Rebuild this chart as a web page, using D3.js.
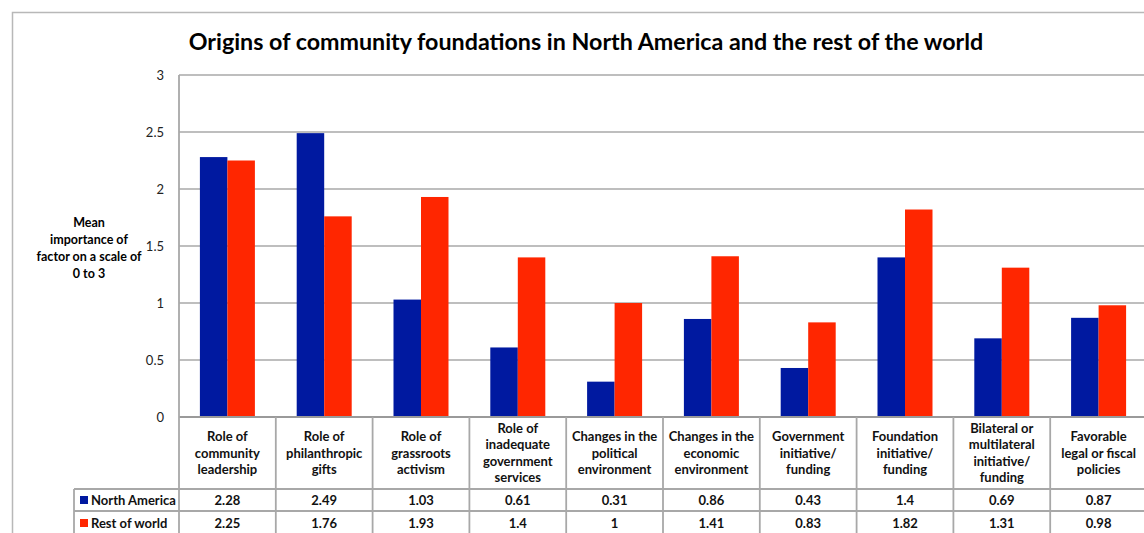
<!DOCTYPE html>
<html><head><meta charset="utf-8">
<script src="https://cdn.jsdelivr.net/npm/d3@7"></script>
<style>body{margin:0;background:#fff;} svg{display:block;}</style>
</head><body>
<svg id="c" width="1144" height="533"></svg>
<script>
const title = "Origins of community foundations in North America and the rest of the world";
const yLabelLines = ["Mean", "importance of", "factor on a scale of", "0 to 3"];
const categories = [
  "Role of|community|leadership",
  "Role of|philanthropic|gifts",
  "Role of|grassroots|activism",
  "Role of|inadequate|government|services",
  "Changes in the|political|environment",
  "Changes in the|economic|environment",
  "Government|initiative/|funding",
  "Foundation|initiative/|funding",
  "Bilateral or|multilateral|initiative/|funding",
  "Favorable|legal or fiscal|policies"
];
const seriesNames = ["North America", "Rest of world"];
const northAmerica = [2.28, 2.49, 1.03, 0.61, 0.31, 0.86, 0.43, 1.4, 0.69, 0.87];
const restOfWorld = [2.25, 1.76, 1.93, 1.4, 1, 1.41, 0.83, 1.82, 1.31, 0.98];
const yTicks = [0, 0.5, 1, 1.5, 2, 2.5, 3];
const colors = ["#0019A0", "#FF2600"];

const series = [northAmerica, restOfWorld];
const svg = d3.select("#c");
const font = "Lato, 'Open Sans', sans-serif";
const gridColor = "#a8a8a8";

// outer frame
svg.append("rect").attr("x", 12.5).attr("y", 12.5).attr("width", 1200).attr("height", 600)
  .attr("fill", "none").attr("stroke", "#b8b8b8").attr("stroke-width", 1.5);

const x0 = 179, colW = 96.8;
const x = d3.scaleBand().domain(categories).range([x0, x0 + colW * categories.length]).paddingInner(0).paddingOuter(0);
const xs = d3.scaleBand().domain([0, 1]).range([0, colW]).paddingInner(0).paddingOuter(0.76);
const y = d3.scaleLinear().domain([0, 3]).range([417, 75]);

// title
const t = svg.append("text").attr("x", 586).attr("y", 50).attr("text-anchor", "middle")
  .attr("font-family", font).attr("font-weight", "bold").attr("font-size", 20).attr("fill", "#000").text(title);
const w = t.node().getComputedTextLength();
t.attr("font-size", 20 * 795 / w);

// gridlines
const grid = svg.append("g");
grid.selectAll("line").data(yTicks.filter(d => d > 0)).join("line")
  .attr("x1", x0).attr("x2", 1144).attr("y1", d => y(d)).attr("y2", d => y(d))
  .attr("stroke", gridColor).attr("stroke-width", 1.5);

// y axis labels using d3 axis
const yAxis = d3.axisLeft(y).tickValues(yTicks).tickFormat(d => String(d)).tickSize(0).tickPadding(0);
const ga = svg.append("g").attr("transform", `translate(164,0)`).call(yAxis);
ga.select(".domain").remove();
ga.selectAll("text").attr("font-family", font).attr("font-size", 13).attr("fill", "#222");

// y label
const yl = svg.append("text").attr("text-anchor", "middle").attr("font-family", font)
  .attr("font-weight", "bold").attr("font-size", 12.5).attr("fill", "#000");
yLabelLines.forEach((l, i) => yl.append("tspan").attr("x", 89).attr("y", 227 + i * 17).text(l));

// bars
const bg = svg.append("g");
series.forEach((s, si) => {
  bg.selectAll(".b" + si).data(s).join("rect")
    .attr("x", (d, i) => x(categories[i]) + xs(si))
    .attr("width", xs.bandwidth())
    .attr("y", d => y(d)).attr("height", d => y(0) - y(d))
    .attr("fill", colors[si]);
});

// table
const rowTop = 417, headBottom = 489, r1 = 511;
const tb = svg.append("g").attr("stroke", gridColor).attr("stroke-width", 1.8);
tb.append("line").attr("x1", x0).attr("x2", 1144).attr("y1", rowTop).attr("y2", rowTop).attr("stroke", "#9a9a9a").attr("stroke-width", 2);
tb.append("line").attr("x1", 74).attr("x2", 1144).attr("y1", headBottom).attr("y2", headBottom);
tb.append("line").attr("x1", 74).attr("x2", 1144).attr("y1", r1).attr("y2", r1);
tb.append("line").attr("x1", 74).attr("x2", 74).attr("y1", headBottom).attr("y2", 533);
tb.append("line").attr("x1", x0).attr("x2", x0).attr("y1", 75).attr("y2", 533);
categories.forEach((c, i) => {
  tb.append("line").attr("x1", x(c) + colW).attr("x2", x(c) + colW).attr("y1", rowTop).attr("y2", 533);
});

// category labels
const lab = svg.append("g").attr("font-family", font).attr("font-weight", "bold").attr("font-size", 13).attr("fill", "#111").attr("text-anchor", "middle");
categories.forEach(c => {
  const lines = c.split("|");
  const cx = x(c) + colW / 2;
  const lh = 16.5;
  const startY = (rowTop + headBottom) / 2 - (lines.length - 1) * lh / 2 + 4.5;
  const tx = lab.append("text");
  lines.forEach((l, i) => tx.append("tspan").attr("x", cx).attr("y", startY + i * lh).text(l));
});

// rows
const rowY = [505, 528];
series.forEach((s, si) => {
  svg.append("rect").attr("x", 80).attr("y", rowY[si] - 9).attr("width", 8).attr("height", 8).attr("fill", colors[si]);
  svg.append("text").attr("x", 91).attr("y", rowY[si]).attr("font-family", font).attr("font-weight", "bold")
    .attr("font-size", 13).attr("fill", "#111").text(seriesNames[si]);
  svg.append("g").selectAll("text").data(s).join("text")
    .attr("x", (d, i) => x(categories[i]) + colW / 2).attr("y", rowY[si])
    .attr("text-anchor", "middle").attr("font-family", font).attr("font-weight", "bold")
    .attr("font-size", 13).attr("fill", "#111").text(d => String(d));
});
</script>
</body></html>
